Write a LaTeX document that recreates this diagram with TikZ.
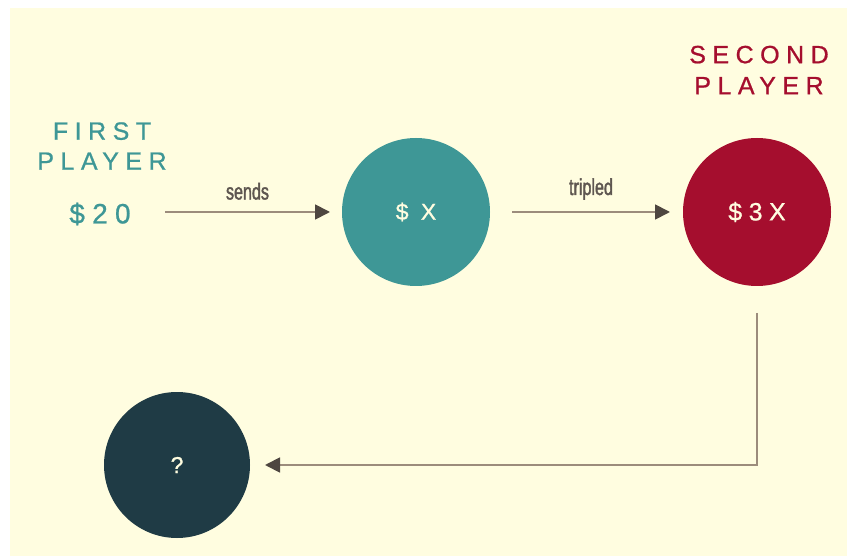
\documentclass[tikz,border=0pt]{standalone}
\usepackage{fontspec}
\setmainfont{Liberation Sans}
\newfontfamily\spaced[LetterSpace=26,FakeBold=0.8]{Liberation Sans}
\newfontfamily\narrowfont[FakeStretch=0.7,FakeBold=1.6]{Liberation Sans}
\newfontfamily\boldish[FakeBold=1.2]{Liberation Sans}
\usetikzlibrary{arrows.meta}
\definecolor{bgcream}{HTML}{FFFDE0}
\definecolor{tealc}{HTML}{3E9796}
\definecolor{crimson}{HTML}{A50E2E}
\definecolor{darkslate}{HTML}{1F3B45}
\definecolor{lineclr}{HTML}{9C8C7C}
\definecolor{headclr}{HTML}{4E4640}
\definecolor{lblclr}{HTML}{5E5650}
\begin{document}
\begin{tikzpicture}[x=1pt,y=-1pt,
  disc/.style={circle,minimum size=148pt,inner sep=0pt,text=bgcream,font=\spaced\fontsize{23}{23}\selectfont},
  flow/.style={draw=lineclr,line width=1.8pt,-{Triangle[length=15pt,width=15pt,color=headclr]}},
  lbl/.style={text=lblclr,font=\narrowfont\fontsize{23}{23}\selectfont},
  title/.style={font=\spaced\fontsize{25}{30}\selectfont,align=center}]
\useasboundingbox (0,0) rectangle (847,556);
\fill[white] (0,0) rectangle (847,556);
\fill[bgcream] (10,8) rectangle (847,556);
\node[title,text=tealc] (first) at (102,146) {FIRST\\PLAYER};
\node[font=\spaced\fontsize{28}{28}\selectfont,text=tealc] (start) at (100,214) {\$20};
\node[title,text=crimson,font=\spaced\fontsize{25}{31}\selectfont] (second) at (759,70) {SECOND\\PLAYER};
\node[disc,fill=tealc] (x) at (416,212) {\$ X};
\node[disc,fill=crimson,font=\spaced\fontsize{25}{25}\selectfont] (tx) at (757,212) {\$3X};
\node[disc,fill=darkslate,minimum size=146pt,font=\boldish\fontsize{23}{23}\selectfont] (q) at (177,465) {?};
\coordinate (s1) at (165,212);
\coordinate (s2) at (330,212);
\coordinate (t1) at (512,212);
\coordinate (t2) at (670,212);
\coordinate (d1) at (757,313);
\coordinate (d2) at (757,465);
\coordinate (d3) at (265,465);
\draw[flow] (s1) -- node[lbl,above=8pt] {sends} (s2);
\draw[flow] (t1) -- node[lbl,above=8pt] {tripled} (t2);
\draw[flow] (d1) -- (d2) -- (d3);
\end{tikzpicture}
\end{document}
